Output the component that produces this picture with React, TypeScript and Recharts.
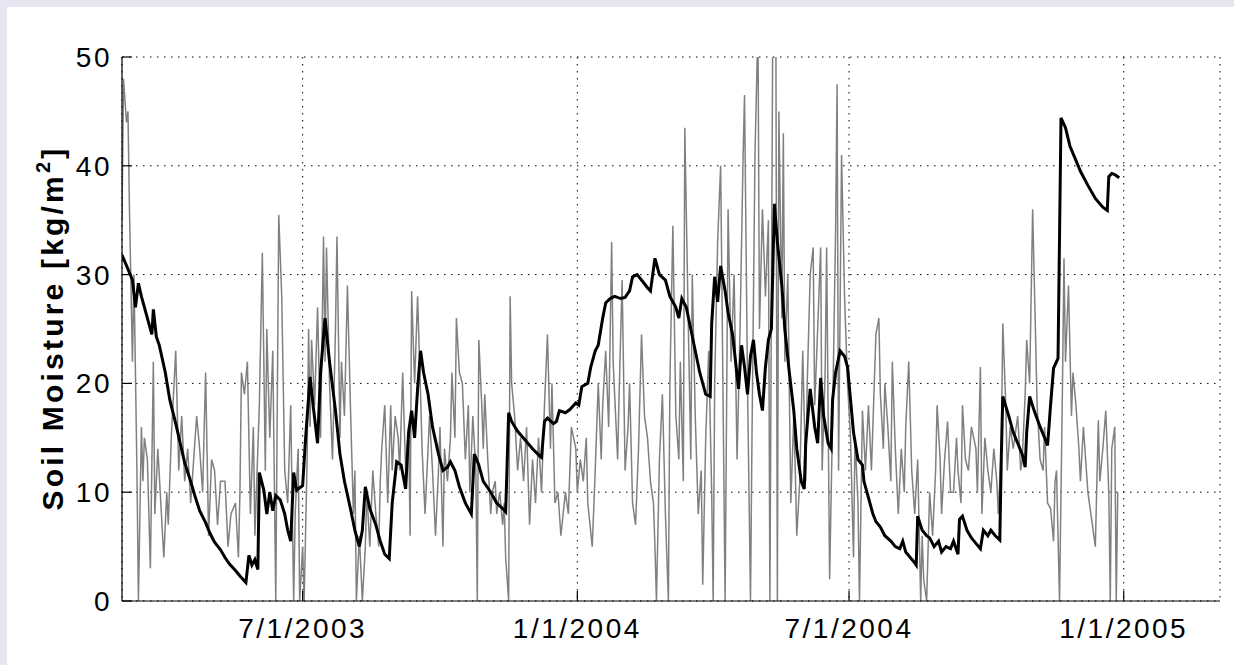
import { LineChart, Line, XAxis, YAxis, CartesianGrid } from 'recharts';

// day numbers count from 1 Mar 2003; values in kg/m2
const observed: [number, number][] = [
  [1, 35], [2, 48], [4, 44], [5, 45], [6, 36], [8, 22], [9, 30], [11, 12], [12, 0], [14, 16], [15, 11], [16, 15],
  [18, 13], [20, 3], [22, 22], [23, 8], [25, 14], [27, 9], [29, 4], [31, 10], [32, 7], [34, 15], [37, 23], [39, 12],
  [41, 17], [43, 11], [45, 14], [47, 9], [49, 13], [51, 17], [53, 14], [55, 10], [57, 21], [59, 6], [61, 13], [63, 12],
  [65, 7], [67, 11], [70, 11], [72, 5], [74, 8], [77, 9], [79, 4], [80, 10], [81, 21], [83, 19], [85, 22], [87, 8],
  [89, 16], [90, 6], [91, 10], [93, 18], [95, 32], [97, 12], [98, 25], [100, 15], [102, 23], [104, 0], [106, 35.5], [108, 28],
  [110, 12], [112, 9], [114, 18], [116, 0], [117, 8], [119, 14], [120, 0], [122, 5], [123, 0], [125, 13], [126, 25], [127, 16],
  [128, 24], [130, 18], [132, 27], [134, 15], [136, 33.5], [137, 22], [138, 32.5], [140, 20], [142, 13], [144, 25], [145, 33.5], [147, 15],
  [148, 22], [150, 17], [152, 29], [154, 18], [156, 8], [157, 12], [158, 0], [160, 6], [162, 0], [164, 5], [165, 10], [167, 5],
  [169, 12], [171, 8], [173, 5], [174, 11], [175, 14], [177, 18], [179, 9], [181, 18], [182, 12], [184, 17], [186, 15], [187, 12],
  [189, 21], [191, 12], [193, 16], [194, 6], [195, 28.5], [197, 20], [199, 28], [201, 19], [202, 14], [204, 8], [206, 14], [207, 17],
  [209, 12], [211, 6], [213, 12], [214, 16], [216, 5], [217, 14], [219, 11], [221, 15], [222, 21], [224, 15], [225, 26], [227, 21],
  [229, 20], [231, 13], [233, 18], [234, 10], [236, 17], [238, 12], [239, 0], [240, 24], [242, 18], [243, 14], [244, 19], [246, 13],
  [248, 8], [249, 10], [251, 11], [252, 8], [254, 10], [256, 7], [257, 9], [258, 4], [260, 0], [261, 28], [262, 20], [264, 17],
  [266, 12], [268, 15], [270, 11], [272, 16], [274, 7], [276, 13], [278, 9], [280, 15], [282, 10], [284, 18], [286, 24.5], [288, 14],
  [289, 20], [291, 9], [293, 10], [295, 6], [298, 10], [300, 8], [302, 16], [305, 14], [306, 10], [308, 13], [310, 11], [312, 15],
  [313, 9], [316, 5], [318, 12], [320, 20], [322, 13], [323, 18], [325, 23], [327, 16], [329, 33], [330, 22], [333, 13], [334, 19],
  [336, 29.5], [338, 12], [340, 16], [341, 20], [343, 9], [345, 7], [347, 14], [349, 24.5], [351, 17], [353, 15], [355, 11], [357, 9],
  [358, 5], [359, 0], [361, 13], [363, 19], [365, 8], [367, 0], [368, 20], [370, 34.5], [372, 17], [374, 13], [375, 22], [377, 11],
  [378, 43.5], [380, 28], [382, 13], [383, 30], [385, 17], [387, 8], [389, 12], [390, 1.5], [392, 15], [394, 23], [396, 10], [397, 0],
  [398, 20], [400, 33], [402, 40], [403, 27], [405, 0], [406, 18], [407, 36], [409, 22], [411, 30], [413, 13], [415, 25], [417, 40.5],
  [418, 46.5], [420, 20], [422, 0], [423, 15], [425, 41], [427, 53], [428, 25], [430, 36], [432, 28], [434, 35], [435, 0], [437, 55],
  [439, 52], [440, 0], [441, 45], [443, 26], [444, 43], [445, 22], [447, 30], [449, 9], [451, 17], [452, 12], [453, 6], [455, 11],
  [457, 23], [459, 11], [460, 20], [462, 30], [464, 32.5], [465, 18], [467, 25], [469, 32.5], [470, 12], [472, 21], [473, 32.5], [475, 2],
  [477, 17], [479, 34], [480, 47.5], [481, 12], [483, 41], [485, 28], [487, 20], [489, 15], [491, 4], [492, 15], [494, 9], [495, 0],
  [497, 17.5], [499, 12], [501, 18], [503, 12], [506, 24.5], [508, 26], [509, 19], [511, 14], [512, 20], [514, 16], [516, 11], [517, 22],
  [519, 14], [521, 8], [523, 14], [525, 10], [526, 16], [528, 22], [530, 12], [532, 8], [534, 13], [536, 0], [537, 6], [538, 2],
  [540, 0], [542, 10], [544, 6], [546, 12], [547, 18], [549, 13], [550, 8], [552, 13], [554, 16.5], [556, 10], [558, 10], [560, 15],
  [561, 12], [563, 9], [564, 18], [566, 13], [568, 12], [570, 16], [573, 14], [574, 10], [576, 21.5], [577, 8], [579, 15], [581, 12],
  [583, 10], [585, 14], [587, 11], [588, 8], [590, 14], [591, 25.5], [593, 18], [594, 12], [596, 16], [598, 14], [601, 17], [603, 12],
  [604, 13], [606, 19], [607, 24], [609, 20], [611, 36], [612, 30], [614, 18], [616, 13], [618, 12], [619, 16], [621, 9], [623, 8.5],
  [625, 5.5], [626, 11], [627, 12], [629, 0], [631, 20], [632, 31.5], [633, 22], [635, 29], [637, 17], [638, 21], [640, 18], [642, 14],
  [643, 11], [645, 16], [646, 14], [648, 10], [650, 8], [652, 6], [653, 5], [655, 16.6], [656, 11], [658, 14], [660, 17.5], [662, 10],
  [663, 0], [664, 14], [666, 16], [667, 0], [668, 10],
];

const modelled: [number, number][] = [
  [1, 31.8], [5, 30.5], [8, 29.5], [10, 27], [12, 29.2], [14, 28], [18, 26], [21, 24.5], [22, 26.8], [24, 24.3], [26, 23.5], [30, 21],
  [33, 18.5], [37, 16.3], [40, 14.5], [43, 12.7], [47, 11], [50, 9.6], [53, 8.3], [57, 7.2], [60, 6.2], [63, 5.4], [67, 4.7], [70, 4],
  [73, 3.4], [77, 2.8], [80, 2.3], [84, 1.7], [86, 4.2], [88, 3.3], [90, 3.8], [92, 2.9], [93, 11.8], [96, 10.2], [98, 8], [100, 10],
  [102, 8.3], [104, 9.7], [107, 9.3], [110, 8], [112, 6.5], [114, 5.5], [116, 11.8], [118, 10.2], [121, 10.5], [122, 10.6], [124, 15], [127, 20.6],
  [129, 18], [132, 14.5], [134, 21], [137, 26], [140, 22], [144, 17.5], [147, 13.5], [150, 11], [154, 8.5], [157, 6.5], [160, 5], [162, 6.5],
  [164, 10.5], [167, 8.5], [171, 7], [174, 5.5], [177, 4.3], [180, 3.9], [182, 9], [185, 12.8], [188, 12.5], [191, 10.3], [193, 15.5], [195, 17.5],
  [197, 15], [199, 19.5], [201, 23], [203, 21], [206, 19], [209, 16], [213, 13.5], [216, 12], [219, 12.3], [221, 12.8], [224, 12], [227, 10.5],
  [231, 9], [235, 8], [237, 13.5], [240, 12.5], [243, 11], [248, 10], [252, 9], [256, 8.5], [258, 8.2], [260, 17.3], [262, 16.5], [266, 15.6],
  [271, 14.8], [276, 14], [281, 13.3], [282, 13.2], [284, 16.5], [286, 16.8], [290, 16.3], [292, 16.5], [294, 17.5], [298, 17.3], [301, 17.6], [305, 18.2],
  [307, 18], [309, 19.7], [313, 20], [315, 21.5], [318, 23], [320, 23.5], [323, 26], [325, 27.4], [328, 27.8], [331, 28], [335, 27.8], [338, 27.9],
  [341, 28.5], [343, 29.8], [346, 30], [349, 29.5], [353, 28.8], [355, 28.5], [358, 31.5], [361, 30], [365, 29.5], [368, 28], [372, 27], [374, 26],
  [376, 27.8], [379, 27], [382, 25], [385, 23], [388, 21], [392, 19], [395, 18.8], [396, 25.5], [398, 29.8], [400, 27.5], [402, 30.8], [405, 28.5],
  [407, 26.5], [410, 24.5], [412, 22], [414, 19.5], [416, 23.5], [418, 21.5], [420, 19], [422, 22.5], [424, 24], [426, 21], [428, 19], [430, 17.5],
  [432, 21.5], [434, 24], [436, 25], [438, 36.5], [440, 33], [443, 29], [445, 25], [448, 21], [451, 17.5], [453, 14], [456, 11], [458, 10.3],
  [459, 14.5], [462, 19.5], [465, 16], [467, 14.5], [469, 20.5], [471, 17], [474, 14.5], [476, 14], [477, 18.5], [479, 21], [482, 23], [485, 22.5],
  [487, 21.5], [489, 18.5], [491, 15.5], [494, 13], [497, 12.5], [498, 11], [501, 9.5], [504, 8], [506, 7.3], [509, 6.8], [512, 6], [516, 5.5],
  [519, 5], [522, 4.8], [524, 5.5], [526, 4.5], [529, 4], [532, 3.5], [533, 3.3], [534, 7.8], [537, 6.5], [540, 6], [542, 5.8], [545, 5],
  [548, 5.5], [550, 4.5], [553, 5], [556, 4.8], [558, 5.5], [561, 4.3], [562, 7.5], [564, 7.8], [567, 6.5], [570, 5.8], [573, 5.3], [576, 4.8],
  [578, 6.5], [581, 6], [583, 6.5], [586, 6], [589, 5.6], [590, 13.2], [591, 18.8], [595, 17], [598, 15.5], [601, 14.5], [604, 13.5], [606, 12.3],
  [607, 15.5], [609, 18.8], [612, 17.5], [616, 16], [619, 15], [621, 14.3], [623, 18], [625, 21.4], [628, 22.3], [630, 44.4], [633, 43.5], [636, 41.8],
  [640, 40.5], [643, 39.5], [648, 38.2], [653, 37], [658, 36.2], [661, 35.9], [662, 39], [664, 39.3], [666, 39.2], [669, 38.9],
];

const dateTicks = [122, 306, 488, 672];
const dateLabels = ['7/1/2003', '1/1/2004', '7/1/2004', '1/1/2005'];
const moistureTicks = [0, 10, 20, 30, 40, 50];

const obsData = observed.map(([day, sm]) => ({ day, sm }));
const modelData = modelled.map(([day, sm]) => ({ day, sm }));

const FONT = '"Liberation Sans", Arial, Helvetica, sans-serif';
const DAY_DOMAIN: [number, number] = [1, 736.5];
const SM_DOMAIN: [number, number] = [0, 50];
const AXIS_STROKE = { stroke: '#000', strokeWidth: 1.2 };
const TICK_LEN = 10;
const X_LABEL_GAP = 37; // axis line to label baseline
const Y_LABEL_GAP = 10; // axis line to label end

// inward tick mark + label below the bottom axis
function DateTick({ x, y, payload }: any) {
  const label = dateLabels[dateTicks.indexOf(payload.value)];
  const axisY = y - X_LABEL_GAP;
  return (
    <g>
      <line x1={x} x2={x} y1={axisY} y2={axisY - TICK_LEN} stroke="#000" strokeWidth={1.2} />
      <text x={x} y={y} textAnchor="middle" fontFamily={FONT} fontSize={28} letterSpacing={2.5} fill="#000">
        {label}
      </text>
    </g>
  );
}

// inward tick mark under the top border
function TopTick({ x, y }: any) {
  return <line x1={x} x2={x} y1={y} y2={y + TICK_LEN} stroke="#000" strokeWidth={1.2} />;
}

function MoistureTick({ x, y, payload }: any) {
  const axisX = x + Y_LABEL_GAP;
  return (
    <g>
      <line x1={axisX} x2={axisX + TICK_LEN} y1={y} y2={y} stroke="#000" strokeWidth={1.2} />
      <text x={x} y={y} dy="0.36em" textAnchor="end" fontFamily={FONT} fontSize={28} letterSpacing={2.5} fill="#000">
        {payload.value}
      </text>
    </g>
  );
}

// inward tick mark on the right border
function RightTick({ x, y }: any) {
  return <line x1={x} x2={x - TICK_LEN} y1={y} y2={y} stroke="#000" strokeWidth={1.2} />;
}

function YTitle() {
  return (
    <text
      x={63}
      y={328}
      transform="rotate(-90 63 328)"
      textAnchor="middle"
      fontFamily={FONT}
      fontSize={30}
      fontWeight="bold"
      letterSpacing={3.2}
      fill="#000"
    >
      Soil Moisture [kg/m<tspan dy={-13} fontSize={20}>2</tspan><tspan dy={13}>]</tspan>
    </text>
  );
}

export default function App() {
  return (
    <div style={{ position: 'absolute', left: 0, top: 0, width: 1234, height: 665, background: '#e6e6f2', overflow: 'hidden' }}>
      <div style={{ position: 'absolute', left: 7, top: 7, right: 0, bottom: 0, background: '#fff' }} />
      <div style={{ position: 'absolute', left: 0, top: 0 }}>
        <LineChart width={1234} height={665} margin={{ top: 57, right: 14, bottom: 24, left: 62 }}>
          <CartesianGrid stroke="#000" strokeDasharray="1.5 5.5" strokeWidth={1} />
          <XAxis
            dataKey="day"
            type="number"
            domain={DAY_DOMAIN}
            ticks={dateTicks}
            height={40}
            tickSize={0}
            tickMargin={X_LABEL_GAP}
            tick={<DateTick />}
            axisLine={AXIS_STROKE}
            tickLine={false}
            allowDataOverflow
          />
          <XAxis
            xAxisId="top"
            orientation="top"
            dataKey="day"
            type="number"
            domain={DAY_DOMAIN}
            ticks={dateTicks}
            height={0}
            tickSize={0}
            tickMargin={0}
            tick={<TopTick />}
            axisLine={AXIS_STROKE}
            tickLine={false}
            allowDataOverflow
          />
          <YAxis
            type="number"
            domain={SM_DOMAIN}
            ticks={moistureTicks}
            width={60}
            tickSize={0}
            tickMargin={Y_LABEL_GAP}
            tick={<MoistureTick />}
            axisLine={AXIS_STROKE}
            tickLine={false}
            label={<YTitle />}
            allowDataOverflow
          />
          <YAxis
            yAxisId="right"
            orientation="right"
            type="number"
            domain={SM_DOMAIN}
            ticks={moistureTicks}
            width={0}
            tickSize={0}
            tickMargin={0}
            tick={<RightTick />}
            axisLine={AXIS_STROKE}
            tickLine={false}
            allowDataOverflow
          />
          <Line
            data={obsData}
            dataKey="sm"
            xAxisId="top"
            yAxisId="right"
            type="linear"
            stroke="#808080"
            strokeWidth={1.5}
            dot={false}
            isAnimationActive={false}
          />
          <Line
            data={modelData}
            dataKey="sm"
            type="linear"
            stroke="#000"
            strokeWidth={3}
            dot={false}
            isAnimationActive={false}
          />
        </LineChart>
      </div>
    </div>
  );
}
